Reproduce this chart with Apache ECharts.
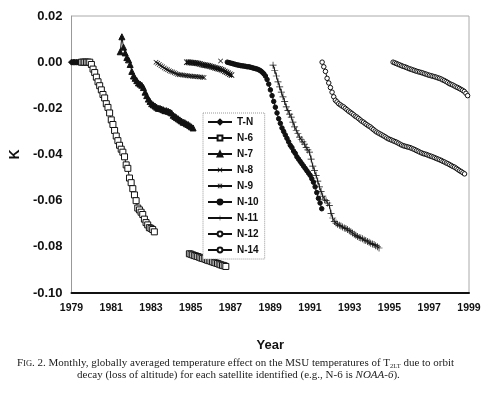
<!DOCTYPE html>
<html><head><meta charset="utf-8">
<script src="https://cdn.jsdelivr.net/npm/echarts@6/dist/echarts.min.js"></script>
<style>html,body{margin:0;padding:0;background:#fff}#c{width:494px;height:395px}</style>
</head><body><div id="c"></div>
<script>
// ---- data (monthly values, start year of each run) ----
const xTicks = [1979, 1981, 1983, 1985, 1987, 1989, 1991, 1993, 1995, 1997, 1999];
const yTicks = [0.02, 0.00, -0.02, -0.04, -0.06, -0.08, -0.10];

const tnStart = 1979.0;
const tnValues = [0,0,0,0,0,0,0,0,0,0,0];

const n6Start = 1979.5;
const n6Values = [0,0,0,0,0,0,
 -0.001,-0.003,-0.0045,-0.0065,-0.0085,-0.0102,-0.012,-0.014,-0.0155,-0.018,-0.0196,-0.022,
 -0.025,-0.027,-0.0296,-0.032,-0.034,-0.036,-0.0377,-0.039,-0.041,-0.0445,-0.046,-0.0502,
 -0.0522,-0.0548,-0.0575,-0.060,-0.0632,-0.064,-0.065,-0.066,-0.068,-0.0695,-0.0705,-0.0717,
 -0.072,-0.0725,-0.0735];
const n6bStart = 1984.93;
const n6bValues = [-0.0830,-0.0832,-0.0835,-0.0838,-0.0840,-0.0842,-0.0845,-0.0848,-0.0850,-0.0852,
 -0.0855,-0.0858,-0.0860,-0.0862,-0.0865,-0.0868,-0.0870,-0.0872,-0.0875,-0.0878,-0.0880,-0.0882,-0.0885];

const n7Start = 1981.45;
const n7Values = [0.0045,0.011,0.0065,0.004,0.002,0.001,-0.001,-0.004,-0.006,-0.007,-0.008,-0.009,
 -0.0095,-0.010,-0.011,-0.013,-0.0145,-0.016,-0.017,-0.018,-0.0185,-0.019,-0.0195,-0.020,-0.020,
 -0.0203,-0.0206,-0.021,-0.021,-0.0213,-0.0216,-0.022,-0.023,-0.0235,-0.024,-0.0245,-0.025,
 -0.0255,-0.026,-0.0262,-0.0267,-0.027,-0.0275,-0.028,-0.0285];

const n8Start = 1983.25;
const n8Values = [0,-0.0005,-0.001,-0.0015,-0.002,-0.0025,-0.003,-0.0033,-0.0037,-0.004,-0.0043,
 -0.0046,-0.0049,-0.0052,-0.0054,-0.0055,-0.0056,-0.0057,-0.0058,-0.0059,-0.006,-0.006,-0.0061,
 -0.0062,-0.0062,-0.0063,-0.0064,-0.0064,-0.0065,-0.0066];
const n8bStart = 1986.5;
const n8bValues = [0.0005];

const n9Start = 1984.8;
const n9Values = [0,0,-0.0001,-0.0002,-0.0003,-0.0004,-0.0005,-0.0006,-0.0008,-0.001,-0.0012,
 -0.0013,-0.0014,-0.0016,-0.0018,-0.002,-0.0022,-0.0024,-0.0026,-0.0028,-0.003,-0.0033,-0.0036,
 -0.004,-0.0044,-0.0048,-0.0052,-0.0056];

const n10Start = 1986.84;
const n10Values = [0,-0.0002,-0.0004,-0.0006,-0.0008,-0.001,-0.0012,-0.0013,-0.0015,-0.0016,
 -0.0017,-0.0018,-0.002,-0.002,-0.0022,-0.0024,-0.0026,-0.0028,-0.003,-0.0033,-0.0037,-0.0043,
 -0.005,-0.006,-0.0075,-0.0095,-0.012,-0.0145,-0.017,-0.0195,-0.022,-0.0245,-0.0265,-0.0285,
 -0.030,-0.0315,-0.033,-0.0345,-0.036,-0.037,-0.0385,-0.0395,-0.041,-0.042,-0.043,-0.044,-0.045,
 -0.046,-0.047,-0.048,-0.049,-0.0505,-0.052,-0.054,-0.0565,-0.059,-0.061,-0.0635];

const n11Start = 1989.14;
const n11Values = [-0.0013,-0.0035,-0.006,-0.0085,-0.0107,-0.013,-0.015,-0.017,-0.0194,-0.021,
 -0.0225,-0.0238,-0.026,-0.028,-0.0295,-0.031,-0.0325,-0.0335,-0.0345,-0.0355,-0.037,-0.038,
 -0.039,-0.042,-0.045,-0.047,-0.049,-0.0515,-0.054,-0.056,-0.058,-0.0595,-0.060,-0.061,-0.062,
 -0.0655,-0.0675,-0.069,-0.0697,-0.0702,-0.0707,-0.071,-0.0714,-0.0718,-0.0721,-0.0725,-0.073,
 -0.0735,-0.074,-0.0745,-0.075,-0.0755,-0.076,-0.0762,-0.0765,-0.077,-0.0773,-0.0777,-0.078,
 -0.0785,-0.0788,-0.079,-0.0795,-0.080,-0.0805];

const n12Start = 1991.61;
const n12Values = [0,-0.002,-0.004,-0.007,-0.009,-0.011,-0.013,-0.015,-0.0165,-0.0172,-0.018,
 -0.0185,-0.019,-0.0194,-0.020,-0.0206,-0.0212,-0.0217,-0.0222,-0.0228,-0.0234,-0.0238,-0.0244,
 -0.025,-0.0256,-0.026,-0.0266,-0.0271,-0.0276,-0.028,-0.0286,-0.0292,-0.0298,-0.0303,-0.0307,
 -0.0311,-0.0315,-0.0319,-0.0323,-0.0328,-0.0332,-0.0335,-0.0338,-0.0341,-0.0344,-0.0347,-0.0351,
 -0.0355,-0.0359,-0.0362,-0.0364,-0.0366,-0.0368,-0.037,-0.0373,-0.0376,-0.0379,-0.0383,-0.0386,
 -0.039,-0.0393,-0.0396,-0.0398,-0.04,-0.0403,-0.0406,-0.0408,-0.0411,-0.0414,-0.0417,-0.042,
 -0.0423,-0.0426,-0.043,-0.0433,-0.0437,-0.044,-0.0444,-0.0448,-0.0452,-0.0455,-0.046,-0.0465,
 -0.047,-0.0474,-0.0479,-0.0484];

const n14Start = 1995.18;
const n14Values = [0,-0.0003,-0.0006,-0.0009,-0.0012,-0.0015,-0.0018,-0.002,-0.0023,-0.0026,
 -0.0029,-0.0031,-0.0034,-0.0036,-0.0039,-0.0041,-0.0043,-0.0045,-0.0047,-0.005,-0.0052,-0.0055,
 -0.0057,-0.0059,-0.0061,-0.0063,-0.0065,-0.0068,-0.007,-0.0073,-0.0077,-0.008,-0.0084,-0.0088,
 -0.0093,-0.0096,-0.0099,-0.0103,-0.0107,-0.011,-0.0114,-0.0118,-0.0122,-0.0127,-0.0135,-0.0145,
 -0.0155];

// ---- build monthly [year, value] pairs ----
function monthly(start, vals) { return vals.map((v, i) => [start + i / 12, v]); }
function joinRuns(...runs) {
  const out = [];
  runs.forEach((r, k) => { if (k > 0) out.push('-'); out.push(...r); });
  return out;
}

const P_X = 'path://M0,1L1,0L5,4L9,0L10,1L6,5L10,9L9,10L5,6L1,10L0,9L4,5Z';
const P_AST = 'path://M0,1L1,0L5,4L9,0L10,1L6,5L10,9L9,10L5,6L1,10L0,9L4,5Z M4.4,0L5.6,0L5.6,10L4.4,10Z';
const P_PLUS = 'path://M4.5,0L5.5,0L5.5,4.5L10,4.5L10,5.5L5.5,5.5L5.5,10L4.5,10L4.5,5.5L0,5.5L0,4.5L4.5,4.5Z';

const INK = '#111';
function mk(name, data, symbol, size, extra) {
  return Object.assign({
    name, type: 'line', data, symbol, symbolSize: size,
    showSymbol: true, connectNulls: false,
    lineStyle: { color: INK, width: 1 },
    itemStyle: { color: INK, borderColor: INK, borderWidth: 1 },
    emphasis: { disabled: true }
  }, extra || {});
}

const series = [
  mk('T-N', monthly(tnStart, tnValues), 'diamond', 6),
  mk('N-6', joinRuns(monthly(n6Start, n6Values), monthly(n6bStart, n6bValues)), 'rect', 6,
     { itemStyle: { color: '#fff', borderColor: INK, borderWidth: 1 } }),
  mk('N-7', monthly(n7Start, n7Values), 'triangle', 6),
  mk('N-8', joinRuns(monthly(n8Start, n8Values), monthly(n8bStart, n8bValues)), P_X, 5,
     { itemStyle: { color: INK, borderWidth: 0 } }),
  mk('N-9', monthly(n9Start, n9Values), P_AST, 6, { itemStyle: { color: INK, borderWidth: 0 } }),
  mk('N-10', monthly(n10Start, n10Values), 'circle', 4.5),
  mk('N-11', monthly(n11Start, n11Values), P_PLUS, 7, { itemStyle: { color: INK, borderWidth: 0 } }),
  mk('N-12', monthly(n12Start, n12Values), 'circle', 4.5,
     { itemStyle: { color: '#fff', borderColor: INK, borderWidth: 1 } }),
  mk('N-14', monthly(n14Start, n14Values), 'circle', 4.5,
     { itemStyle: { color: '#fff', borderColor: INK, borderWidth: 1 } })
];

const chart = echarts.init(document.getElementById('c'), null, { renderer: 'canvas' });
chart.setOption({
  animation: false,
  backgroundColor: '#fff',
  grid: { left: 62, top: 16, right: 25, bottom: 102, show: true, borderColor: '#aaa', borderWidth: 1 },
  xAxis: {
    type: 'value', min: xTicks[0], max: xTicks[xTicks.length - 1], interval: 2,
    name: 'Year', nameLocation: 'middle', nameGap: 46,
    nameTextStyle: { fontFamily: 'Liberation Sans', fontWeight: 'bold', fontSize: 13, color: '#111' },
    axisLine: { show: true, onZero: false, lineStyle: { color: '#111', width: 2 } },
    axisTick: { show: false }, splitLine: { show: false },
    axisLabel: { margin: 10, fontFamily: 'Liberation Sans', fontWeight: 'bold', fontSize: 10.5, color: '#111',
      formatter: v => String(v) }
  },
  yAxis: {
    type: 'value', min: yTicks[yTicks.length - 1], max: yTicks[0], interval: 0.02,
    name: 'K', nameLocation: 'middle', nameGap: 48, nameRotate: 90,
    nameTextStyle: { fontFamily: 'Liberation Sans', fontWeight: 'bold', fontSize: 14, color: '#111' },
    axisLine: { show: true, onZero: false, lineStyle: { color: '#999', width: 1 } },
    axisTick: { show: false }, splitLine: { show: false },
    axisLabel: { margin: 9, fontFamily: 'Liberation Sans', fontWeight: 'bold', fontSize: 13, color: '#111',
      formatter: v => v.toFixed(2) }
  },
  legend: {
    orient: 'vertical', left: 203, top: 113,
    itemWidth: 24, itemHeight: 6, itemGap: 6,
    padding: [4, 6, 4, 4],
    borderColor: '#999', borderWidth: 1, borderType: 'dotted',
    backgroundColor: '#fff',
    textStyle: { fontFamily: 'Liberation Sans', fontWeight: 'bold', fontSize: 10, color: '#111' },
    data: series.map(s => s.name)
  },
  graphic: [
    { type: 'text', left: 17, top: 358, style: {
      text: '{n|F}{s|IG}{n|. 2. Monthly, globally averaged temperature effect on the MSU temperatures of T}{sub|2LT}{n| due to orbit}',
      rich: {
        n: { fontFamily: 'Liberation Serif', fontSize: 11, fill: '#222' },
        s: { fontFamily: 'Liberation Serif', fontSize: 8.5, fill: '#222' },
        sub: { fontFamily: 'Liberation Serif', fontSize: 6.5, fill: '#222', padding: [5, 0, 0, 0] }
      } } },
    { type: 'text', left: 77, top: 370, style: {
      text: '{n|decay (loss of altitude) for each satellite identified (e.g., N-6 is }{i|NOAA-6}{n|).}',
      rich: {
        n: { fontFamily: 'Liberation Serif', fontSize: 11, fill: '#222' },
        i: { fontFamily: 'Liberation Serif', fontSize: 11, fontStyle: 'italic', fill: '#222' }
      } } }
  ],
  series
});
</script></body></html>
